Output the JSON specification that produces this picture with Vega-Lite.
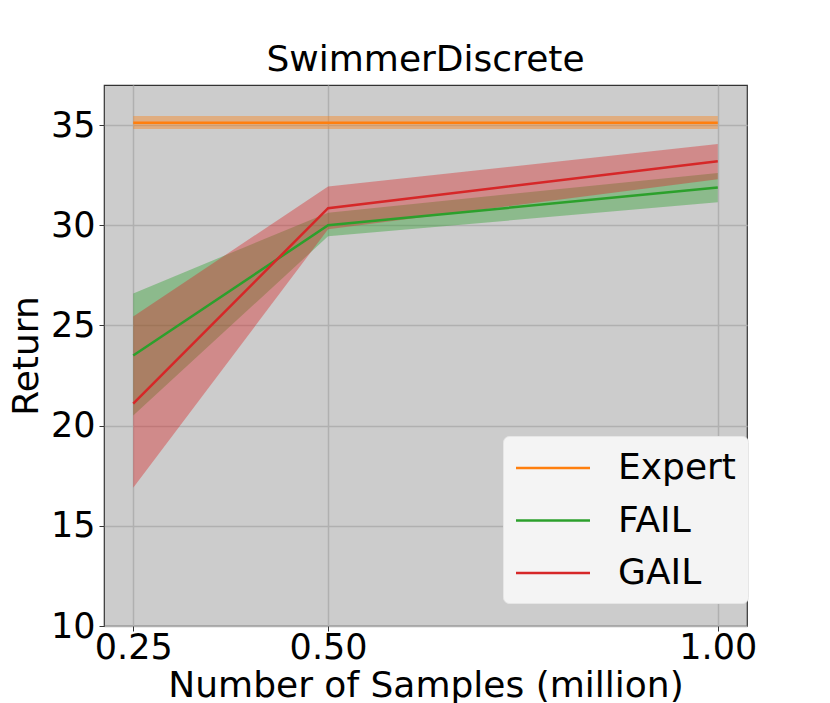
{
  "$schema": "https://vega.github.io/schema/vega-lite/v6.json",
  "width": 643,
  "height": 541,
  "autosize": {"type": "none"},
  "padding": {"left": 104, "top": 85, "right": 83, "bottom": 77},
  "background": "white",
  "title": {"text": "SwimmerDiscrete", "fontSize": 36, "font": "DejaVu Sans", "fontWeight": "normal", "color": "black", "offset": 6},
  "config": {
    "font": "DejaVu Sans",
    "view": {"fill": "#cccccc", "stroke": "#333333", "strokeWidth": 1.2}
  },
  "data": {"values": [
    {"series": "Expert", "samples": 0.25, "mean": 35.12, "lo": 34.8, "hi": 35.45},
    {"series": "Expert", "samples": 0.5, "mean": 35.12, "lo": 34.8, "hi": 35.45},
    {"series": "Expert", "samples": 1.0, "mean": 35.12, "lo": 34.8, "hi": 35.45},
    {"series": "FAIL", "samples": 0.25, "mean": 23.5, "lo": 20.5, "hi": 26.6},
    {"series": "FAIL", "samples": 0.5, "mean": 30.0, "lo": 29.45, "hi": 30.63},
    {"series": "FAIL", "samples": 1.0, "mean": 31.88, "lo": 31.15, "hi": 32.61},
    {"series": "GAIL", "samples": 0.25, "mean": 21.1, "lo": 16.9, "hi": 25.45},
    {"series": "GAIL", "samples": 0.5, "mean": 30.85, "lo": 29.8, "hi": 31.93},
    {"series": "GAIL", "samples": 1.0, "mean": 33.2, "lo": 32.3, "hi": 34.05}
  ]},
  "encoding": {
    "x": {
      "field": "samples", "type": "quantitative",
      "scale": {"domain": [0.2125, 1.0375], "nice": false, "zero": false},
      "axis": {
        "values": [0.25, 0.5, 1.0], "format": ".2f",
        "title": "Number of Samples (million)",
        "titleFontSize": 36, "titleFontWeight": "normal", "titleColor": "black", "titlePadding": 3,
        "labelFontSize": 35, "labelColor": "black", "labelPadding": -1, "labelFlush": false,
        "tickSize": 5, "tickColor": "#333333", "domain": false,
        "grid": true, "gridColor": "#b0b0b0", "gridWidth": 1.5
      }
    }
  },
  "layer": [
    {
      "mark": {"type": "area", "opacity": 0.4},
      "encoding": {
        "y": {
          "field": "lo", "type": "quantitative",
          "scale": {"domain": [10, 37], "nice": false, "zero": false},
          "axis": {
            "values": [10, 15, 20, 25, 30, 35],
            "title": "Return",
            "titleFontSize": 36, "titleFontWeight": "normal", "titleColor": "black", "titlePadding": 5,
            "labelFontSize": 35, "labelColor": "black", "labelPadding": 4,
            "tickSize": 5, "tickColor": "#333333", "domain": false,
            "grid": true, "gridColor": "#b0b0b0", "gridWidth": 1.5
          }
        },
        "y2": {"field": "hi"},
        "fill": {
          "field": "series", "type": "nominal",
          "scale": {"domain": ["Expert", "FAIL", "GAIL"], "range": ["#ff7f0e", "#2ca02c", "#d62728"]}
        }
      }
    },
    {
      "mark": {"type": "line", "strokeWidth": 2.5},
      "encoding": {
        "y": {"field": "mean", "type": "quantitative"},
        "stroke": {
          "field": "series", "type": "nominal",
          "scale": {"domain": ["Expert", "FAIL", "GAIL"], "range": ["#ff7f0e", "#2ca02c", "#d62728"]},
          "legend": {
            "orient": "none", "legendX": 399, "legendY": 351,
            "title": null,
            "fillColor": "#f4f4f4", "strokeColor": "#e6e6e6", "cornerRadius": 6,
            "padding": 12,
            "labelFontSize": 36, "labelColor": "black", "labelOffset": 45,
            "symbolType": "M-2,0H2", "symbolSize": 1369, "symbolStrokeWidth": 2.5, "symbolOffset": 18,
            "rowPadding": 14.5,
            "encode": {"symbols": {"update": {"opacity": {"value": 1}, "fill": {"value": "transparent"}}}}
          }
        }
      }
    }
  ]
}
